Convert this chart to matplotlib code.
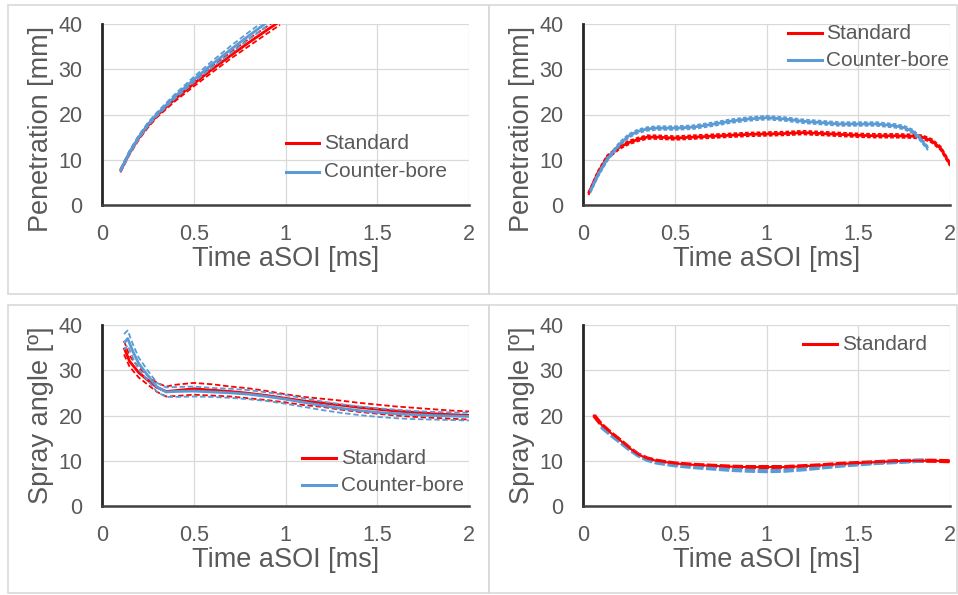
import matplotlib
matplotlib.use("Agg")
import matplotlib.pyplot as plt
from matplotlib.patches import Rectangle
from matplotlib.lines import Line2D

plt.rcParams['font.family'] = ['Liberation Sans', 'DejaVu Sans']

RED = '#ff0000'
BLUE = '#5b9bd5'
GRAY = '#595959'

# ---- Top-left: penetration, case A ----
tl_t_std = [0.10, 0.15, 0.20, 0.25, 0.30, 0.40, 0.50, 0.60, 0.70, 0.80, 0.90, 0.97]
tl_std = [7.5, 11.5, 14.8, 17.5, 19.8, 23.5, 26.8, 30.0, 33.0, 35.9, 38.7, 40.6]
tl_std_hi = [7.8, 11.9, 15.2, 17.9, 20.2, 24.0, 27.4, 30.7, 33.7, 36.7, 39.5, 41.4]
tl_std_lo = [7.2, 11.1, 14.4, 17.1, 19.4, 23.0, 26.2, 29.3, 32.3, 35.1, 37.9, 39.8]
tl_t_cb = [0.10, 0.15, 0.20, 0.25, 0.30, 0.40, 0.50, 0.60, 0.70, 0.80, 0.90]
tl_cb = [7.6, 11.6, 15.0, 17.8, 20.1, 24.1, 27.7, 31.1, 34.3, 37.4, 40.4]
tl_cb_hi = [7.9, 12.0, 15.4, 18.2, 20.5, 24.6, 28.3, 31.8, 35.1, 38.2, 41.2]
tl_cb_lo = [7.3, 11.2, 14.6, 17.4, 19.7, 23.6, 27.1, 30.4, 33.5, 36.6, 39.6]

# ---- Top-right: penetration, case B ----
tr_t_std = [0.03, 0.08, 0.13, 0.20, 0.25, 0.30, 0.35, 0.40, 0.50, 0.60, 0.70, 0.80,
            0.90, 1.00, 1.10, 1.20, 1.30, 1.40, 1.50, 1.60, 1.70, 1.80, 1.85, 1.90,
            1.95, 2.00]
tr_std = [2.5, 7.0, 10.5, 12.8, 13.8, 14.5, 15.0, 15.0, 14.8, 15.0, 15.2, 15.4,
          15.6, 15.7, 15.8, 16.0, 15.8, 15.6, 15.4, 15.3, 15.3, 15.2, 15.0, 14.2,
          12.5, 9.0]
tr_std_hi = [2.8, 7.4, 10.9, 13.2, 14.2, 14.9, 15.4, 15.4, 15.2, 15.4, 15.6, 15.8,
             16.0, 16.1, 16.2, 16.4, 16.2, 16.0, 15.8, 15.7, 15.7, 15.6, 15.4, 14.6,
             12.9, 9.4]
tr_std_lo = [2.2, 6.6, 10.1, 12.4, 13.4, 14.1, 14.6, 14.6, 14.4, 14.6, 14.8, 15.0,
             15.2, 15.3, 15.4, 15.6, 15.4, 15.2, 15.0, 14.9, 14.9, 14.8, 14.6, 13.8,
             12.1, 8.6]
tr_t_cb = [0.04, 0.08, 0.13, 0.20, 0.25, 0.30, 0.35, 0.40, 0.50, 0.60, 0.70, 0.80,
           0.90, 1.00, 1.10, 1.20, 1.30, 1.40, 1.50, 1.60, 1.70, 1.75, 1.80, 1.84,
           1.88]
tr_cb = [3.0, 6.5, 10.0, 13.5, 15.3, 16.3, 16.8, 17.0, 17.0, 17.2, 17.8, 18.5,
         19.0, 19.3, 19.0, 18.5, 18.2, 17.9, 17.9, 17.9, 17.5, 17.1, 16.2, 14.5,
         12.5]
tr_cb_hi = [3.3, 6.9, 10.4, 13.9, 15.7, 16.7, 17.2, 17.4, 17.4, 17.6, 18.2, 18.9,
            19.4, 19.7, 19.4, 18.9, 18.6, 18.3, 18.3, 18.3, 17.9, 17.5, 16.6, 14.9,
            12.9]
tr_cb_lo = [2.7, 6.1, 9.6, 13.1, 14.9, 15.9, 16.4, 16.6, 16.6, 16.8, 17.4, 18.1,
            18.6, 18.9, 18.6, 18.1, 17.8, 17.5, 17.5, 17.5, 17.1, 16.7, 15.8, 14.1,
            12.1]

# ---- Bottom-left: spray angle, case A ----
bl_t_std = [0.12, 0.15, 0.20, 0.25, 0.30, 0.35, 0.40, 0.50, 0.60, 0.70, 0.80, 0.90,
            1.00, 1.10, 1.20, 1.30, 1.40, 1.50, 1.60, 1.70, 1.80, 1.90, 2.00]
bl_std = [35.0, 32.0, 29.5, 27.8, 26.2, 25.3, 25.5, 25.9, 25.6, 25.3, 24.9, 24.4,
          23.8, 23.2, 22.8, 22.3, 21.8, 21.4, 21.0, 20.7, 20.4, 20.2, 20.0]
bl_std_hi = [36.5, 33.2, 30.6, 28.8, 27.2, 26.4, 26.8, 27.2, 26.9, 26.4, 26.0, 25.4,
             24.7, 24.1, 23.7, 23.3, 22.8, 22.4, 22.0, 21.7, 21.4, 21.1, 20.9]
bl_std_lo = [33.5, 30.8, 28.4, 26.8, 25.2, 24.2, 24.3, 24.6, 24.4, 24.2, 23.8, 23.4,
             22.9, 22.3, 21.9, 21.3, 20.8, 20.4, 20.0, 19.7, 19.5, 19.3, 19.1]
bl_t_cb = [0.12, 0.14, 0.17, 0.20, 0.25, 0.30, 0.35, 0.40, 0.50, 0.60, 0.70, 0.80,
           0.90, 1.00, 1.10, 1.20, 1.30, 1.40, 1.50, 1.60, 1.70, 1.80, 1.90, 2.00]
bl_cb = [36.0, 37.0, 34.0, 31.5, 28.8, 26.3, 25.2, 25.3, 25.4, 25.2, 25.0, 24.7,
         24.2, 23.6, 22.9, 22.2, 21.6, 21.1, 20.7, 20.4, 20.2, 20.0, 19.9, 19.8]
bl_cb_hi = [38.0, 38.8, 35.6, 32.8, 29.9, 27.2, 26.2, 26.3, 26.4, 26.1, 25.9, 25.6,
            25.1, 24.5, 23.8, 23.1, 22.5, 22.0, 21.6, 21.3, 21.0, 20.8, 20.7, 20.6]
bl_cb_lo = [34.5, 35.5, 32.6, 30.2, 27.7, 25.2, 24.1, 24.1, 24.2, 24.1, 23.9, 23.6,
            23.2, 22.6, 21.9, 21.2, 20.6, 20.1, 19.7, 19.4, 19.2, 19.1, 19.0, 18.9]

# ---- Bottom-right: spray angle, case B ----
br_t_std = [0.06, 0.08, 0.10, 0.15, 0.20, 0.25, 0.30, 0.35, 0.40, 0.50, 0.60, 0.70,
            0.80, 0.90, 1.00, 1.10, 1.20, 1.30, 1.40, 1.50, 1.60, 1.70, 1.80, 1.90,
            2.00]
br_std = [20.0, 19.0, 18.0, 16.2, 14.6, 12.9, 11.4, 10.5, 10.0, 9.4, 9.1, 8.9,
          8.7, 8.6, 8.6, 8.6, 8.8, 9.0, 9.3, 9.5, 9.7, 9.9, 10.0, 10.0, 9.9]
br_t_cb = [0.10, 0.15, 0.20, 0.25, 0.30, 0.35, 0.40, 0.50, 0.60, 0.70, 0.80, 0.90,
           1.00, 1.10, 1.20, 1.30, 1.40, 1.50, 1.60, 1.70, 1.80, 1.87]
br_cb = [17.5, 15.8, 14.2, 12.6, 11.2, 10.2, 9.6, 9.0, 8.6, 8.3, 8.0, 7.8,
         7.7, 7.8, 8.1, 8.5, 8.9, 9.2, 9.5, 9.7, 9.9, 10.1]

xticks = [0, 0.5, 1, 1.5, 2]
xticklabels = ['0', '0.5', '1', '1.5', '2']
yticks = [0, 10, 20, 30, 40]

fig = plt.figure(figsize=(9.58, 5.95), dpi=100)
W, H = 958.0, 595.0

# panel borders
for (x0, y0, x1, y1) in [(8, 5, 489, 294), (489, 5, 957, 294),
                         (8, 305, 489, 593), (489, 305, 957, 593)]:
    fig.add_artist(Rectangle((x0 / W, 1 - y1 / H), (x1 - x0) / W, (y1 - y0) / H,
                             transform=fig.transFigure, fill=False,
                             edgecolor='#d9d9d9', linewidth=1.2))


def make_ax(left_px, top_px, ylabel, ylabel_y=0.5):
    ax = fig.add_axes([left_px / W, 1 - (top_px + 181) / H, 367 / W, 181 / H])
    ax.set_xlim(0, 2)
    ax.set_ylim(0, 40)
    ax.set_xticks(xticks)
    ax.set_xticklabels(xticklabels)
    ax.set_yticks(yticks)
    ax.grid(True, color='#d9d9d9', linewidth=0.9)
    ax.set_axisbelow(True)
    for s in ['top', 'right']:
        ax.spines[s].set_visible(False)
    ax.spines['left'].set_color('#262626')
    ax.spines['left'].set_linewidth(2.0)
    ax.spines['bottom'].set_color('#404040')
    ax.spines['bottom'].set_linewidth(1.8)
    ax.tick_params(length=0, labelsize=15.5, labelcolor=GRAY)
    ax.tick_params(axis='x', pad=13.5)
    ax.tick_params(axis='y', pad=14)
    ax.set_xlabel('Time aSOI [ms]', fontsize=19.5, color=GRAY, labelpad=1)
    ax.set_ylabel(ylabel, fontsize=19.5, color=GRAY, labelpad=3)
    ax.yaxis.label.set_y(ylabel_y)
    return ax


def band(ax, t, mid, hi, lo, color, dash=(0, (3, 1.5))):
    ax.plot(t, mid, color=color, lw=2.0, solid_capstyle='butt')
    ax.plot(t, hi, color=color, lw=1.3, ls=dash)
    ax.plot(t, lo, color=color, lw=1.3, ls=dash)


def legend(ax, labels, colors, x, ys):
    for lab, c, yy in zip(labels, colors, ys):
        ax.add_line(Line2D([x, x + 0.185], [yy, yy], color=c, lw=2.2,
                           transform=ax.transData, clip_on=False))
        ax.text(x + 0.21, yy, lab, fontsize=15, color=GRAY, va='center', ha='left',
                clip_on=False)


# Top-left
ax1 = make_ax(102, 24, 'Penetration [mm]', ylabel_y=0.42)
band(ax1, tl_t_std, tl_std, tl_std_hi, tl_std_lo, RED)
band(ax1, tl_t_cb, tl_cb, tl_cb_hi, tl_cb_lo, BLUE)
legend(ax1, ['Standard', 'Counter-bore'], [RED, BLUE], 1.0, [13.7, 7.3])

# Top-right
ax2 = make_ax(583, 24, 'Penetration [mm]', ylabel_y=0.42)
band(ax2, tr_t_std, tr_std, tr_std_hi, tr_std_lo, RED, dash=(0, (2, 1.2)))
band(ax2, tr_t_cb, tr_cb, tr_cb_hi, tr_cb_lo, BLUE, dash=(0, (2, 1.2)))
legend(ax2, ['Standard', 'Counter-bore'], [RED, BLUE], 1.115, [38.0, 32.0])

# Bottom-left
ax3 = make_ax(102, 325, 'Spray angle [º]')
band(ax3, bl_t_std, bl_std, bl_std_hi, bl_std_lo, RED)
band(ax3, bl_t_cb, bl_cb, bl_cb_hi, bl_cb_lo, BLUE)
legend(ax3, ['Standard', 'Counter-bore'], [RED, BLUE], 1.09, [10.6, 4.6])

# Bottom-right
ax4 = make_ax(583, 325, 'Spray angle [º]')
ax4.plot(br_t_std, br_std, color=RED, lw=3.0, ls=(0, (2.5, 0.6)))
ax4.plot(br_t_cb, br_cb, color=BLUE, lw=3.0, ls=(0, (2.5, 0.6)))
ax4.plot(br_t_std, br_std, color=RED, lw=1.5)
legend(ax4, ['Standard'], [RED], 1.2, [35.8])

fig.savefig('out.png', dpi=100)
